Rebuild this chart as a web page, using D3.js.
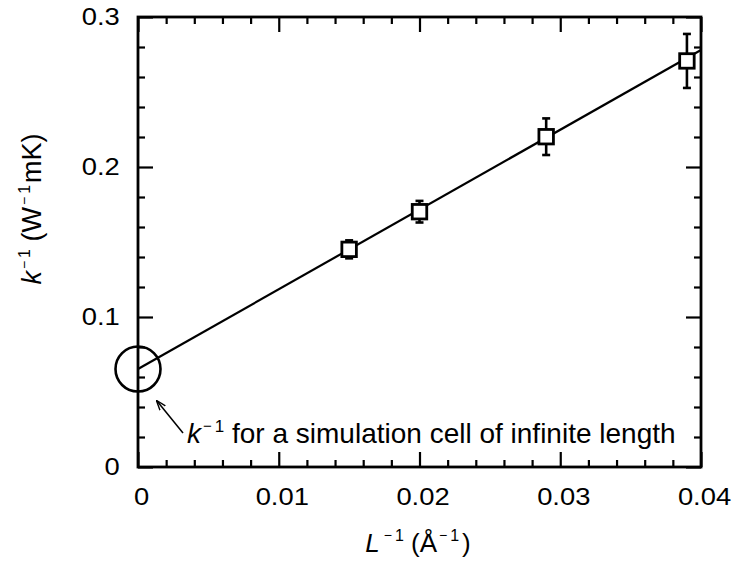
<!DOCTYPE html>
<html>
<head>
<meta charset="utf-8">
<script src="https://cdn.jsdelivr.net/npm/d3@7"></script>
<style>
  body { margin: 0; background: #fff; }
  svg { display: block; }
  text { font-family: "Liberation Sans", Arial, Helvetica, sans-serif; fill: #000; }
</style>
</head>
<body>
<svg id="chart" width="733" height="561"></svg>
<script>
// Axis ticks and labels
const xTickValues = [0, 0.01, 0.02, 0.03, 0.04];
const xTickLabels = ["0", "0.01", "0.02", "0.03", "0.04"];
const yTickValues = [0, 0.1, 0.2, 0.3];
const yTickLabels = ["0", "0.1", "0.2", "0.3"];

// Measured points: inverse cell length vs inverse conductivity, with error half-widths
const invLength = [0.015, 0.020, 0.029, 0.039];
const invConductivity = [0.1451, 0.1702, 0.2202, 0.2707];
const errHalf = [0.0060, 0.0072, 0.0122, 0.0180];

// Linear fit, extrapolated to L^-1 = 0
const fitInvLength = [0, 0.04];
const fitInvConductivity = [0.0653, 0.2780];

const svg = d3.select("#chart");
const margin = { top: 17, right: 32, bottom: 94, left: 138 };
const W = 733, H = 561;

const x = d3.scaleLinear().domain([0, 0.04]).range([margin.left, W - margin.right]);
const y = d3.scaleLinear().domain([0, 0.3]).range([H - margin.bottom, margin.top]);

const majorLen = 15, minorLen = 7;
const xMinor = d3.range(0, 21).map(i => i * 0.002).filter(v => !xTickValues.some(t => Math.abs(t - v) < 1e-9));
const yMinor = d3.range(0, 16).map(i => i * 0.02).filter(v => !yTickValues.some(t => Math.abs(t - v) < 1e-9));

const tickFont = 24, tickStretch = 1.14;

function styleAxis(g) {
  g.select(".domain").remove();
  g.selectAll(".tick line").attr("stroke", "#000").attr("stroke-width", 2.2);
}

// Bottom axis
svg.append("g")
  .attr("transform", `translate(0,${y(0)})`)
  .call(d3.axisBottom(x).tickValues(xTickValues).tickFormat((d, i) => xTickLabels[i])
    .tickSize(-majorLen).tickSizeOuter(0).tickPadding(21))
  .call(styleAxis)
  .call(g => g.selectAll(".tick text")
    .attr("font-size", tickFont).attr("font-family", null)
    .attr("transform", `translate(3,0) scale(${tickStretch},1)`));
svg.append("g")
  .attr("transform", `translate(0,${y(0)})`)
  .call(d3.axisBottom(x).tickValues(xMinor).tickFormat("").tickSize(-minorLen).tickSizeOuter(0))
  .call(styleAxis);

// Top axis
svg.append("g")
  .attr("transform", `translate(0,${y(0.3)})`)
  .call(d3.axisTop(x).tickValues(xTickValues).tickFormat("").tickSize(-majorLen).tickSizeOuter(0))
  .call(styleAxis);
svg.append("g")
  .attr("transform", `translate(0,${y(0.3)})`)
  .call(d3.axisTop(x).tickValues(xMinor).tickFormat("").tickSize(-minorLen).tickSizeOuter(0))
  .call(styleAxis);

// Left axis
svg.append("g")
  .attr("transform", `translate(${x(0)},0)`)
  .call(d3.axisLeft(y).tickValues(yTickValues).tickFormat((d, i) => yTickLabels[i])
    .tickSize(-majorLen).tickSizeOuter(0).tickPadding(16))
  .call(styleAxis)
  .call(g => g.selectAll(".tick text")
    .attr("font-size", tickFont).attr("font-family", null)
    .attr("transform", `scale(${tickStretch},1)`));
svg.append("g")
  .attr("transform", `translate(${x(0)},0)`)
  .call(d3.axisLeft(y).tickValues(yMinor).tickFormat("").tickSize(-minorLen).tickSizeOuter(0))
  .call(styleAxis);

// Right axis
svg.append("g")
  .attr("transform", `translate(${x(0.04)},0)`)
  .call(d3.axisRight(y).tickValues(yTickValues).tickFormat("").tickSize(-majorLen).tickSizeOuter(0))
  .call(styleAxis);
svg.append("g")
  .attr("transform", `translate(${x(0.04)},0)`)
  .call(d3.axisRight(y).tickValues(yMinor).tickFormat("").tickSize(-minorLen).tickSizeOuter(0))
  .call(styleAxis);

// Plot frame
svg.append("rect")
  .attr("x", x(0)).attr("y", y(0.3))
  .attr("width", x(0.04) - x(0)).attr("height", y(0) - y(0.3))
  .attr("fill", "none").attr("stroke", "#000").attr("stroke-width", 2.8);

// Fit line
const fitData = fitInvLength.map((v, i) => [v, fitInvConductivity[i]]);
svg.append("path")
  .datum(fitData)
  .attr("d", d3.line().x(d => x(d[0])).y(d => y(d[1])))
  .attr("fill", "none").attr("stroke", "#000").attr("stroke-width", 2.2);

// Error bars and square markers
const pts = invLength.map((v, i) => ({ x: v, y: invConductivity[i], e: errHalf[i] }));
const capHalf = 4, sq = 14.5;
const eb = svg.append("g").attr("stroke", "#000").attr("stroke-width", 2.6);
pts.forEach(p => {
  const cx = x(p.x);
  eb.append("line").attr("x1", cx).attr("x2", cx).attr("y1", y(p.y - p.e)).attr("y2", y(p.y + p.e));
  eb.append("line").attr("x1", cx - capHalf).attr("x2", cx + capHalf).attr("y1", y(p.y + p.e)).attr("y2", y(p.y + p.e));
  eb.append("line").attr("x1", cx - capHalf).attr("x2", cx + capHalf).attr("y1", y(p.y - p.e)).attr("y2", y(p.y - p.e));
});
svg.append("g").selectAll("rect")
  .data(pts).join("rect")
  .attr("x", d => x(d.x) - sq / 2).attr("y", d => y(d.y) - sq / 2)
  .attr("width", sq).attr("height", sq)
  .attr("fill", "#fff").attr("stroke", "#000").attr("stroke-width", 2.8);

// Highlight of the extrapolated intercept
const cx0 = x(fitInvLength[0]), cy0 = y(fitInvConductivity[0]);
svg.append("circle")
  .attr("cx", cx0).attr("cy", cy0).attr("r", 22.5)
  .attr("fill", "none").attr("stroke", "#000").attr("stroke-width", 2.6);

svg.append("defs").append("marker")
  .attr("id", "arrowhead").attr("viewBox", "0 0 10 10")
  .attr("refX", 9).attr("refY", 5)
  .attr("markerWidth", 10).attr("markerHeight", 10)
  .attr("markerUnits", "userSpaceOnUse")
  .attr("orient", "auto")
  .append("path").attr("d", "M0,1.5 L10,5 L0,8.5").attr("fill", "none")
  .attr("stroke", "#000").attr("stroke-width", 1.4);

svg.append("line")
  .attr("x1", cx0 + 45).attr("y1", cy0 + 64)
  .attr("x2", cx0 + 19).attr("y2", cy0 + 32)
  .attr("stroke", "#000").attr("stroke-width", 1.6)
  .attr("marker-end", "url(#arrowhead)");

// Annotation text
const ann = svg.append("text")
  .attr("x", cx0 + 49).attr("y", cy0 + 74)
  .attr("font-size", 28);
ann.append("tspan").attr("font-style", "italic").text("k");
ann.append("tspan").attr("font-size", 15).attr("dy", -12).attr("dx", 2).text("−");
ann.append("tspan").attr("font-size", 17).attr("dx", 3).attr("dy", 1).text("1");
ann.append("tspan").attr("dy", 11).text(" for a simulation cell of infinite length");

// X axis title
const xt = svg.append("text")
  .attr("x", 418).attr("y", 552)
  .attr("text-anchor", "middle")
  .attr("font-size", 26);
xt.append("tspan").attr("font-style", "italic").text("L");
xt.append("tspan").attr("font-size", 14).attr("dy", -12).attr("dx", 4).text("−");
xt.append("tspan").attr("font-size", 16).attr("dx", 3).attr("dy", 1).text("1");
xt.append("tspan").attr("dy", 11).text("  (Å");
xt.append("tspan").attr("font-size", 14).attr("dy", -12).attr("dx", 2).text("−");
xt.append("tspan").attr("font-size", 16).attr("dx", 3).attr("dy", 1).text("1");
xt.append("tspan").attr("dy", 11).attr("dx", 3).text(")");

// Y axis title
const yt = svg.append("text")
  .attr("transform", "translate(41,209) rotate(-90)")
  .attr("text-anchor", "middle")
  .attr("font-size", 27);
yt.append("tspan").attr("font-style", "italic").text("k");
yt.append("tspan").attr("font-size", 14).attr("dy", -12).attr("dx", 2).text("−");
yt.append("tspan").attr("font-size", 16).attr("dx", 3).attr("dy", 1).text("1");
yt.append("tspan").attr("dy", 11).text(" (W");
yt.append("tspan").attr("font-size", 14).attr("dy", -12).attr("dx", 2).text("−");
yt.append("tspan").attr("font-size", 16).attr("dx", 3).attr("dy", 1).text("1");
yt.append("tspan").attr("dy", 11).attr("dx", 2).text("mK)");
</script>
</body>
</html>
